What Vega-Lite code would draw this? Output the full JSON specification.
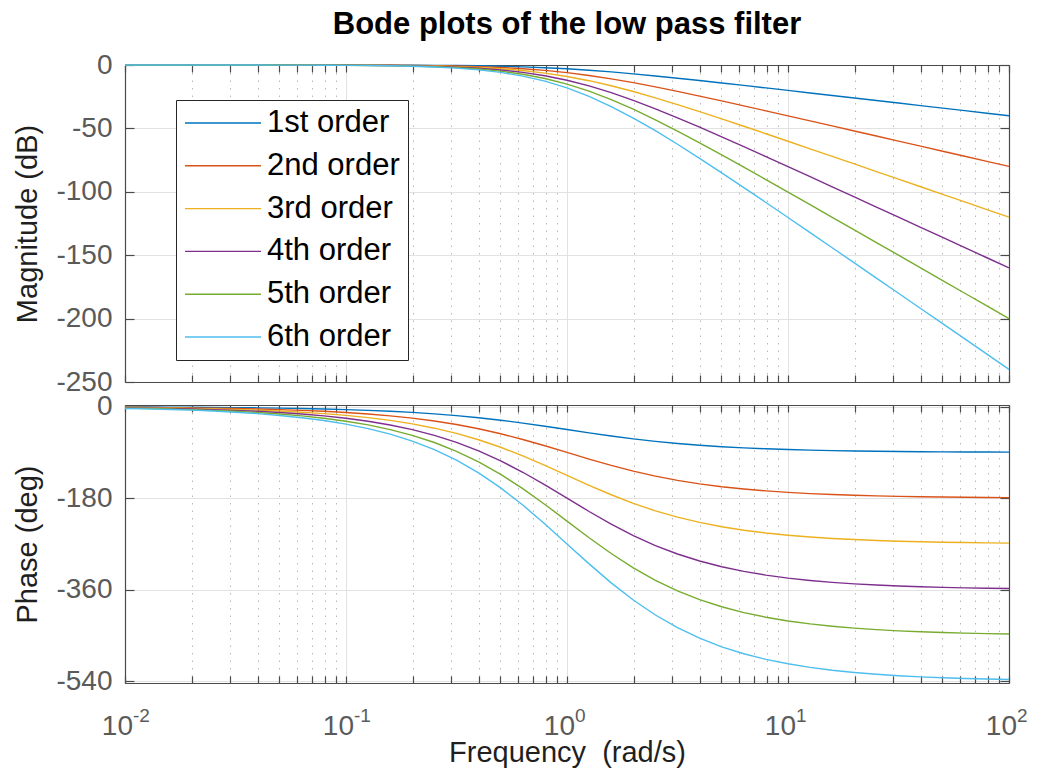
{
  "$schema": "https://vega.github.io/schema/vega-lite/v6.json",
  "background": "white",
  "padding": {"left": 13, "top": 9, "right": 0, "bottom": 0},
  "spacing": -4,
  "config": {
    "font": "Liberation Sans",
    "view": {"stroke": null},
    "axis": {
      "domainColor": "#4a4a4a", "domainWidth": 1.2,
      "tickColor": "#4a4a4a", "tickWidth": 1.2,
      "labelFont": "Liberation Sans", "labelFontSize": 28, "labelColor": "#5a5a5a",
      "titleFont": "Liberation Sans", "titleFontSize": 29, "titleColor": "#1f1f1f", "titleFontWeight": "normal",
      "gridColor": "#e2e2e2", "gridWidth": 1
    }
  },
  "resolve": {"legend": {"color": "independent"}},
  "datasets": {
    "mag": [
      {"w":0.01,"n1":-0.0004,"n2":-0.0009,"n3":-0.0013,"n4":-0.0017,"n5":-0.0022,"n6":-0.0026},
      {"w":0.012589,"n1":-0.0007,"n2":-0.0014,"n3":-0.0021,"n4":-0.0028,"n5":-0.0034,"n6":-0.0041},
      {"w":0.015849,"n1":-0.0011,"n2":-0.0022,"n3":-0.0033,"n4":-0.0044,"n5":-0.0055,"n6":-0.0065},
      {"w":0.019953,"n1":-0.0017,"n2":-0.0035,"n3":-0.0052,"n4":-0.0069,"n5":-0.0087,"n6":-0.0104},
      {"w":0.025119,"n1":-0.0027,"n2":-0.0055,"n3":-0.0082,"n4":-0.011,"n5":-0.0137,"n6":-0.0164},
      {"w":0.031623,"n1":-0.0043,"n2":-0.0087,"n3":-0.013,"n4":-0.0174,"n5":-0.0217,"n6":-0.026},
      {"w":0.039811,"n1":-0.0069,"n2":-0.0138,"n3":-0.0206,"n4":-0.0275,"n5":-0.0344,"n6":-0.0413},
      {"w":0.050119,"n1":-0.0109,"n2":-0.0218,"n3":-0.0327,"n4":-0.0436,"n5":-0.0545,"n6":-0.0653},
      {"w":0.063096,"n1":-0.0173,"n2":-0.0345,"n3":-0.0518,"n4":-0.069,"n5":-0.0863,"n6":-0.1035},
      {"w":0.079433,"n1":-0.0273,"n2":-0.0546,"n3":-0.082,"n4":-0.1093,"n5":-0.1366,"n6":-0.1639},
      {"w":0.1,"n1":-0.0432,"n2":-0.0864,"n3":-0.1296,"n4":-0.1728,"n5":-0.2161,"n6":-0.2593},
      {"w":0.125893,"n1":-0.0683,"n2":-0.1366,"n3":-0.2049,"n4":-0.2732,"n5":-0.3415,"n6":-0.4097},
      {"w":0.158489,"n1":-0.1077,"n2":-0.2155,"n3":-0.3232,"n4":-0.4309,"n5":-0.5387,"n6":-0.6464},
      {"w":0.199526,"n1":-0.1696,"n2":-0.3392,"n3":-0.5088,"n4":-0.6784,"n5":-0.848,"n6":-1.0176},
      {"w":0.251189,"n1":-0.266,"n2":-0.532,"n3":-0.7979,"n4":-1.0639,"n5":-1.3299,"n6":-1.5959},
      {"w":0.316228,"n1":-0.4139,"n2":-0.8279,"n3":-1.2418,"n4":-1.6557,"n5":-2.0697,"n6":-2.4836},
      {"w":0.398107,"n1":-0.6389,"n2":-1.2779,"n3":-1.9168,"n4":-2.5557,"n5":-3.1947,"n6":-3.8336},
      {"w":0.501187,"n1":-0.9732,"n2":-1.9465,"n3":-2.9197,"n4":-3.8929,"n5":-4.8662,"n6":-5.8394},
      {"w":0.630957,"n1":-1.4556,"n2":-2.9112,"n3":-4.3667,"n4":-5.8223,"n5":-7.2779,"n6":-8.7335},
      {"w":0.794328,"n1":-2.1244,"n2":-4.2489,"n3":-6.3733,"n4":-8.4977,"n5":-10.6222,"n6":-12.7466},
      {"w":1,"n1":-3.0103,"n2":-6.0206,"n3":-9.0309,"n4":-12.0412,"n5":-15.0515,"n6":-18.0618},
      {"w":1.258925,"n1":-4.1244,"n2":-8.2489,"n3":-12.3733,"n4":-16.4977,"n5":-20.6222,"n6":-24.7466},
      {"w":1.584893,"n1":-5.4556,"n2":-10.9112,"n3":-16.3667,"n4":-21.8223,"n5":-27.2779,"n6":-32.7335},
      {"w":1.995262,"n1":-6.9732,"n2":-13.9465,"n3":-20.9197,"n4":-27.8929,"n5":-34.8662,"n6":-41.8394},
      {"w":2.511886,"n1":-8.6389,"n2":-17.2779,"n3":-25.9168,"n4":-34.5557,"n5":-43.1947,"n6":-51.8336},
      {"w":3.162278,"n1":-10.4139,"n2":-20.8279,"n3":-31.2418,"n4":-41.6557,"n5":-52.0697,"n6":-62.4836},
      {"w":3.981072,"n1":-12.266,"n2":-24.532,"n3":-36.7979,"n4":-49.0639,"n5":-61.3299,"n6":-73.5959},
      {"w":5.011872,"n1":-14.1696,"n2":-28.3392,"n3":-42.5088,"n4":-56.6784,"n5":-70.848,"n6":-85.0176},
      {"w":6.309573,"n1":-16.1077,"n2":-32.2155,"n3":-48.3232,"n4":-64.4309,"n5":-80.5387,"n6":-96.6464},
      {"w":7.943282,"n1":-18.0683,"n2":-36.1366,"n3":-54.2049,"n4":-72.2732,"n5":-90.3415,"n6":-108.4097},
      {"w":10,"n1":-20.0432,"n2":-40.0864,"n3":-60.1296,"n4":-80.1728,"n5":-100.2161,"n6":-120.2593},
      {"w":12.589254,"n1":-22.0273,"n2":-44.0546,"n3":-66.082,"n4":-88.1093,"n5":-110.1366,"n6":-132.1639},
      {"w":15.848932,"n1":-24.0173,"n2":-48.0345,"n3":-72.0518,"n4":-96.069,"n5":-120.0863,"n6":-144.1035},
      {"w":19.952623,"n1":-26.0109,"n2":-52.0218,"n3":-78.0327,"n4":-104.0436,"n5":-130.0545,"n6":-156.0653},
      {"w":25.118864,"n1":-28.0069,"n2":-56.0138,"n3":-84.0206,"n4":-112.0275,"n5":-140.0344,"n6":-168.0413},
      {"w":31.622777,"n1":-30.0043,"n2":-60.0087,"n3":-90.013,"n4":-120.0174,"n5":-150.0217,"n6":-180.026},
      {"w":39.810717,"n1":-32.0027,"n2":-64.0055,"n3":-96.0082,"n4":-128.011,"n5":-160.0137,"n6":-192.0164},
      {"w":50.118723,"n1":-34.0017,"n2":-68.0035,"n3":-102.0052,"n4":-136.0069,"n5":-170.0087,"n6":-204.0104},
      {"w":63.095734,"n1":-36.0011,"n2":-72.0022,"n3":-108.0033,"n4":-144.0044,"n5":-180.0055,"n6":-216.0065},
      {"w":79.432823,"n1":-38.0007,"n2":-76.0014,"n3":-114.0021,"n4":-152.0028,"n5":-190.0034,"n6":-228.0041},
      {"w":100,"n1":-40.0004,"n2":-80.0009,"n3":-120.0013,"n4":-160.0017,"n5":-200.0022,"n6":-240.0026}
    ],
    "phase": [
      {"w":0.01,"n1":-0.57,"n2":-1.15,"n3":-1.72,"n4":-2.29,"n5":-2.86,"n6":-3.44},
      {"w":0.012589,"n1":-0.72,"n2":-1.44,"n3":-2.16,"n4":-2.89,"n5":-3.61,"n6":-4.33},
      {"w":0.015849,"n1":-0.91,"n2":-1.82,"n3":-2.72,"n4":-3.63,"n5":-4.54,"n6":-5.45},
      {"w":0.019953,"n1":-1.14,"n2":-2.29,"n3":-3.43,"n4":-4.57,"n5":-5.72,"n6":-6.86},
      {"w":0.025119,"n1":-1.44,"n2":-2.88,"n3":-4.32,"n4":-5.76,"n5":-7.19,"n6":-8.63},
      {"w":0.031623,"n1":-1.81,"n2":-3.62,"n3":-5.43,"n4":-7.24,"n5":-9.06,"n6":-10.87},
      {"w":0.039811,"n1":-2.28,"n2":-4.56,"n3":-6.84,"n4":-9.12,"n5":-11.4,"n6":-13.68},
      {"w":0.050119,"n1":-2.87,"n2":-5.74,"n3":-8.61,"n4":-11.48,"n5":-14.35,"n6":-17.22},
      {"w":0.063096,"n1":-3.61,"n2":-7.22,"n3":-10.83,"n4":-14.44,"n5":-18.05,"n6":-21.66},
      {"w":0.079433,"n1":-4.54,"n2":-9.08,"n3":-13.63,"n4":-18.17,"n5":-22.71,"n6":-27.25},
      {"w":0.1,"n1":-5.71,"n2":-11.42,"n3":-17.13,"n4":-22.84,"n5":-28.55,"n6":-34.26},
      {"w":0.125893,"n1":-7.18,"n2":-14.35,"n3":-21.53,"n4":-28.7,"n5":-35.88,"n6":-43.05},
      {"w":0.158489,"n1":-9.01,"n2":-18.01,"n3":-27.02,"n4":-36.02,"n5":-45.03,"n6":-54.04},
      {"w":0.199526,"n1":-11.28,"n2":-22.57,"n3":-33.85,"n4":-45.14,"n5":-56.42,"n6":-67.7},
      {"w":0.251189,"n1":-14.1,"n2":-28.21,"n3":-42.31,"n4":-56.41,"n5":-70.52,"n6":-84.62},
      {"w":0.316228,"n1":-17.55,"n2":-35.1,"n3":-52.64,"n4":-70.19,"n5":-87.74,"n6":-105.29},
      {"w":0.398107,"n1":-21.71,"n2":-43.42,"n3":-65.12,"n4":-86.83,"n5":-108.54,"n6":-130.25},
      {"w":0.501187,"n1":-26.62,"n2":-53.24,"n3":-79.86,"n4":-106.48,"n5":-133.1,"n6":-159.72},
      {"w":0.630957,"n1":-32.25,"n2":-64.5,"n3":-96.75,"n4":-129.0,"n5":-161.25,"n6":-193.5},
      {"w":0.794328,"n1":-38.46,"n2":-76.92,"n3":-115.38,"n4":-153.84,"n5":-192.31,"n6":-230.77},
      {"w":1,"n1":-45,"n2":-90,"n3":-135,"n4":-180,"n5":-225,"n6":-270},
      {"w":1.258925,"n1":-51.54,"n2":-103.08,"n3":-154.62,"n4":-206.16,"n5":-257.7,"n6":-309.23},
      {"w":1.584893,"n1":-57.75,"n2":-115.5,"n3":-173.25,"n4":-231.0,"n5":-288.75,"n6":-346.5},
      {"w":1.995262,"n1":-63.38,"n2":-126.76,"n3":-190.14,"n4":-253.52,"n5":-316.9,"n6":-380.28},
      {"w":2.511886,"n1":-68.29,"n2":-136.58,"n3":-204.88,"n4":-273.17,"n5":-341.46,"n6":-409.75},
      {"w":3.162278,"n1":-72.45,"n2":-144.9,"n3":-217.36,"n4":-289.81,"n5":-362.26,"n6":-434.71},
      {"w":3.981072,"n1":-75.9,"n2":-151.79,"n3":-227.69,"n4":-303.59,"n5":-379.49,"n6":-455.38},
      {"w":5.011872,"n1":-78.72,"n2":-157.43,"n3":-236.15,"n4":-314.86,"n5":-393.58,"n6":-472.3},
      {"w":6.309573,"n1":-80.99,"n2":-161.99,"n3":-242.98,"n4":-323.98,"n5":-404.97,"n6":-485.96},
      {"w":7.943282,"n1":-82.82,"n2":-165.65,"n3":-248.47,"n4":-331.3,"n5":-414.12,"n6":-496.95},
      {"w":10,"n1":-84.29,"n2":-168.58,"n3":-252.87,"n4":-337.16,"n5":-421.45,"n6":-505.74},
      {"w":12.589254,"n1":-85.46,"n2":-170.92,"n3":-256.37,"n4":-341.83,"n5":-427.29,"n6":-512.75},
      {"w":15.848932,"n1":-86.39,"n2":-172.78,"n3":-259.17,"n4":-345.56,"n5":-431.95,"n6":-518.34},
      {"w":19.952623,"n1":-87.13,"n2":-174.26,"n3":-261.39,"n4":-348.52,"n5":-435.65,"n6":-522.78},
      {"w":25.118864,"n1":-87.72,"n2":-175.44,"n3":-263.16,"n4":-350.88,"n5":-438.6,"n6":-526.32},
      {"w":31.622777,"n1":-88.19,"n2":-176.38,"n3":-264.57,"n4":-352.76,"n5":-440.94,"n6":-529.13},
      {"w":39.810717,"n1":-88.56,"n2":-177.12,"n3":-265.68,"n4":-354.24,"n5":-442.81,"n6":-531.37},
      {"w":50.118723,"n1":-88.86,"n2":-177.71,"n3":-266.57,"n4":-355.43,"n5":-444.29,"n6":-533.14},
      {"w":63.095734,"n1":-89.09,"n2":-178.18,"n3":-267.28,"n4":-356.37,"n5":-445.46,"n6":-534.55},
      {"w":79.432823,"n1":-89.28,"n2":-178.56,"n3":-267.84,"n4":-357.11,"n5":-446.39,"n6":-535.67},
      {"w":100,"n1":-89.43,"n2":-178.85,"n3":-268.28,"n4":-357.71,"n5":-447.14,"n6":-536.56}
    ],
    "decades": [
      {"w":0.01,"b":"10","e":"-2"},
      {"w":0.1,"b":"10","e":"-1"},
      {"w":1,"b":"10","e":"0"},
      {"w":10,"b":"10","e":"1"},
      {"w":100,"b":"10","e":"2"}
    ]
  },
  "vconcat": [
    {
      "width": 884,
      "height": 317,
      "title": {"text": "Bode plots of the low pass filter", "fontSize": 31, "fontWeight": "bold", "color": "#000000", "anchor": "middle", "frame": "group", "offset": 10},
      "layer": [
        {
          "data": {"name": "mag"},
          "transform": [{"fold": ["n1","n2","n3","n4","n5","n6"], "as": ["order","value"]}],
          "mark": {"type": "line", "strokeWidth": 1.4},
          "encoding": {
            "x": {"field": "w", "type": "quantitative", "scale": {"type": "log", "domain": [0.01, 100], "nice": false},
              "axis": {"orient": "bottom", "values": [0.01,0.02,0.03,0.04,0.05,0.06,0.07,0.08,0.09,0.1,0.2,0.3,0.4,0.5,0.6,0.7,0.8,0.9,1,2,3,4,5,6,7,8,9,10,20,30,40,50,60,70,80,90,100],
                "labels": false, "title": null, "tickSize": -7, "grid": true,
                "gridDash": {"condition": {"test": "datum.value==0.01||datum.value==0.1||datum.value==1||datum.value==10||datum.value==100", "value": []}, "value": [1.5, 6]},
                "gridColor": {"condition": {"test": "datum.value==0.01||datum.value==0.1||datum.value==1||datum.value==10||datum.value==100", "value": "#e2e2e2"}, "value": "#b8b8b8"}}},
            "y": {"field": "value", "type": "quantitative", "scale": {"domain": [-250, 0], "nice": false},
              "axis": {"orient": "left", "values": [0,-50,-100,-150,-200,-250], "labelExpr": "toString(datum.value)", "tickSize": -9, "labelPadding": 22, "title": "Magnitude (dB)", "titlePadding": 13, "grid": true}},
            "color": {"field": "order", "type": "nominal",
              "scale": {"domain": ["n1","n2","n3","n4","n5","n6"], "range": ["#0072BD","#D95319","#EDB120","#7E2F8E","#77AC30","#4DBEEE"]},
              "legend": {"orient": "none", "legendX": 51, "legendY": 35, "title": null,
                "symbolType": "stroke", "symbolSize": 5776, "symbolStrokeWidth": 1.4, "clipHeight": 30, "rowPadding": 11.8,
                "labelFontSize": 31, "labelFont": "Liberation Sans", "labelColor": "#000000", "labelOffset": 5, "padding": 8,
                "strokeColor": "#262626", "fillColor": "#ffffff",
                "labelExpr": "datum.label=='n1'?'1st order':datum.label=='n2'?'2nd order':datum.label=='n3'?'3rd order':datum.label=='n4'?'4th order':datum.label=='n5'?'5th order':'6th order'"}}
          }
        },
        {
          "data": {"name": "mag"},
          "transform": [{"fold": ["n1"], "as": ["order","value"]}],
          "mark": {"type": "line", "opacity": 0},
          "encoding": {
            "x": {"field": "w", "type": "quantitative", "scale": {"type": "log", "domain": [0.01, 100], "nice": false},
              "axis": {"orient": "top", "values": [0.01,0.02,0.03,0.04,0.05,0.06,0.07,0.08,0.09,0.1,0.2,0.3,0.4,0.5,0.6,0.7,0.8,0.9,1,2,3,4,5,6,7,8,9,10,20,30,40,50,60,70,80,90,100], "labels": false, "title": null, "tickSize": -7, "grid": false}},
            "y": {"field": "value", "type": "quantitative", "scale": {"domain": [-250, 0], "nice": false},
              "axis": {"orient": "right", "values": [0,-50,-100,-150,-200,-250], "labels": false, "title": null, "tickSize": -9, "grid": false}}
          }
        }
      ]
    },
    {
      "width": 884,
      "height": 278,
      "layer": [
        {
          "data": {"name": "phase"},
          "transform": [{"fold": ["n1","n2","n3","n4","n5","n6"], "as": ["order","value"]}],
          "mark": {"type": "line", "strokeWidth": 1.4},
          "encoding": {
            "x": {"field": "w", "type": "quantitative", "scale": {"type": "log", "domain": [0.01, 100], "nice": false},
              "axis": {"orient": "bottom", "values": [0.01,0.02,0.03,0.04,0.05,0.06,0.07,0.08,0.09,0.1,0.2,0.3,0.4,0.5,0.6,0.7,0.8,0.9,1,2,3,4,5,6,7,8,9,10,20,30,40,50,60,70,80,90,100],
                "labels": false, "title": "Frequency\u00a0 (rad/s)", "titlePadding": 55, "tickSize": -7, "grid": true,
                "gridDash": {"condition": {"test": "datum.value==0.01||datum.value==0.1||datum.value==1||datum.value==10||datum.value==100", "value": []}, "value": [1.5, 6]},
                "gridColor": {"condition": {"test": "datum.value==0.01||datum.value==0.1||datum.value==1||datum.value==10||datum.value==100", "value": "#e2e2e2"}, "value": "#b8b8b8"}}},
            "y": {"field": "value", "type": "quantitative", "scale": {"domain": [-543.5, 3.3], "nice": false},
              "axis": {"orient": "left", "values": [0,-180,-360,-540], "labelExpr": "toString(datum.value)", "tickSize": -9, "labelPadding": 22, "title": "Phase (deg)", "titlePadding": 13, "grid": true}},
            "color": {"field": "order", "type": "nominal",
              "scale": {"domain": ["n1","n2","n3","n4","n5","n6"], "range": ["#0072BD","#D95319","#EDB120","#7E2F8E","#77AC30","#4DBEEE"]},
              "legend": null}
          }
        },
        {
          "data": {"name": "phase"},
          "transform": [{"fold": ["n1"], "as": ["order","value"]}],
          "mark": {"type": "line", "opacity": 0},
          "encoding": {
            "x": {"field": "w", "type": "quantitative", "scale": {"type": "log", "domain": [0.01, 100], "nice": false},
              "axis": {"orient": "top", "values": [0.01,0.02,0.03,0.04,0.05,0.06,0.07,0.08,0.09,0.1,0.2,0.3,0.4,0.5,0.6,0.7,0.8,0.9,1,2,3,4,5,6,7,8,9,10,20,30,40,50,60,70,80,90,100], "labels": false, "title": null, "tickSize": -7, "grid": false}},
            "y": {"field": "value", "type": "quantitative", "scale": {"domain": [-543.5, 3.3], "nice": false},
              "axis": {"orient": "right", "values": [0,-180,-360,-540], "labels": false, "title": null, "tickSize": -9, "grid": false}}
          }
        },
        {
          "data": {"name": "decades"},
          "mark": {"type": "text", "fontSize": 28, "align": "right", "baseline": "alphabetic", "dx": 8, "dy": 52, "color": "#5a5a5a"},
          "encoding": {
            "x": {"field": "w", "type": "quantitative", "scale": {"type": "log", "domain": [0.01, 100], "nice": false}, "axis": null},
            "y": {"datum": -543.5, "type": "quantitative", "scale": {"domain": [-543.5, 3.3], "nice": false}, "axis": null},
            "text": {"field": "b"}
          }
        },
        {
          "data": {"name": "decades"},
          "mark": {"type": "text", "fontSize": 19, "align": "left", "baseline": "alphabetic", "dx": 8, "dy": 39, "color": "#5a5a5a"},
          "encoding": {
            "x": {"field": "w", "type": "quantitative", "scale": {"type": "log", "domain": [0.01, 100], "nice": false}, "axis": null},
            "y": {"datum": -543.5, "type": "quantitative", "scale": {"domain": [-543.5, 3.3], "nice": false}, "axis": null},
            "text": {"field": "e"}
          }
        }
      ]
    }
  ]
}
